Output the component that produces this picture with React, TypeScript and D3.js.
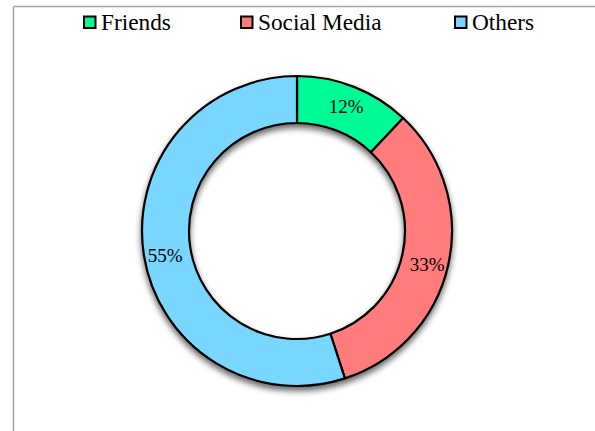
import React from "react";
import * as d3 from "d3";

const categories = ["Friends", "Social Media", "Others"];
const values = [12, 33, 55];
const colors = ["#00FA96", "#FF7C7C", "#78D6FF"];
const legendX = [83, 240, 454];

const FONT = "Liberation Serif, Tinos, Times New Roman, DejaVu Serif, serif";

export default function App() {
  const W = 595, H = 431;
  const cx = 297, cy = 231, rOuter = 155, rInner = 108;
  const total = d3.sum(values);
  const pie = d3.pie<number>().sort(null).value((d) => d)(values);
  const arc = d3.arc<d3.PieArcDatum<number>>().innerRadius(rInner).outerRadius(rOuter);
  const labelArc = d3.arc<d3.PieArcDatum<number>>().innerRadius(rInner + 2).outerRadius(rOuter + 2);
  const fmt = (v: number) => `${Math.round((v / total) * 100)}%`;
  return (
    <svg width={W} height={H} style={{ position: "absolute", left: 0, top: 0 }}>
      <defs>
        <filter id="sh" x="-20%" y="-20%" width="140%" height="140%">
          <feGaussianBlur in="SourceAlpha" stdDeviation="3" />
          <feOffset dx="0" dy="4" result="b" />
          <feComponentTransfer><feFuncA type="linear" slope="0.6" /></feComponentTransfer>
          <feMerge><feMergeNode /><feMergeNode in="SourceGraphic" /></feMerge>
        </filter>
      </defs>
      <rect x={0} y={0} width={W} height={H} fill="#fff" />
      <line x1={13.5} y1={6.5} x2={W} y2={6.5} stroke="#a6a6a6" strokeWidth={1.5} />
      <line x1={13.5} y1={6.5} x2={13.5} y2={H} stroke="#a6a6a6" strokeWidth={1.5} />
      <g transform={`translate(${cx},${cy})`}>
        <g filter="url(#sh)">
          {pie.map((p, i) => (
            <path key={i} d={arc(p) || ""} fill={colors[i]} stroke="#000" strokeWidth={2.2} strokeLinejoin="round" />
          ))}
        </g>
        {pie.map((p, i) => {
          const [x, y] = labelArc.centroid(p);
          const dy = i === 0 ? 0 : 4;
          return (
            <text key={i} x={x} y={y + dy} textAnchor="middle" dominantBaseline="central" fontSize={19} fill="#000" fontFamily={FONT}>
              {fmt(p.value)}
            </text>
          );
        })}
      </g>
      {categories.map((c, i) => (
        <g key={c}>
          <rect x={legendX[i] + 1} y={16.5} width={11.5} height={11.5} fill={colors[i]} stroke="#000" strokeWidth={2} />
          <text x={legendX[i] + 18} y={30} fontSize={23.3} fill="#000" fontFamily={FONT}>{c}</text>
        </g>
      ))}
    </svg>
  );
}
